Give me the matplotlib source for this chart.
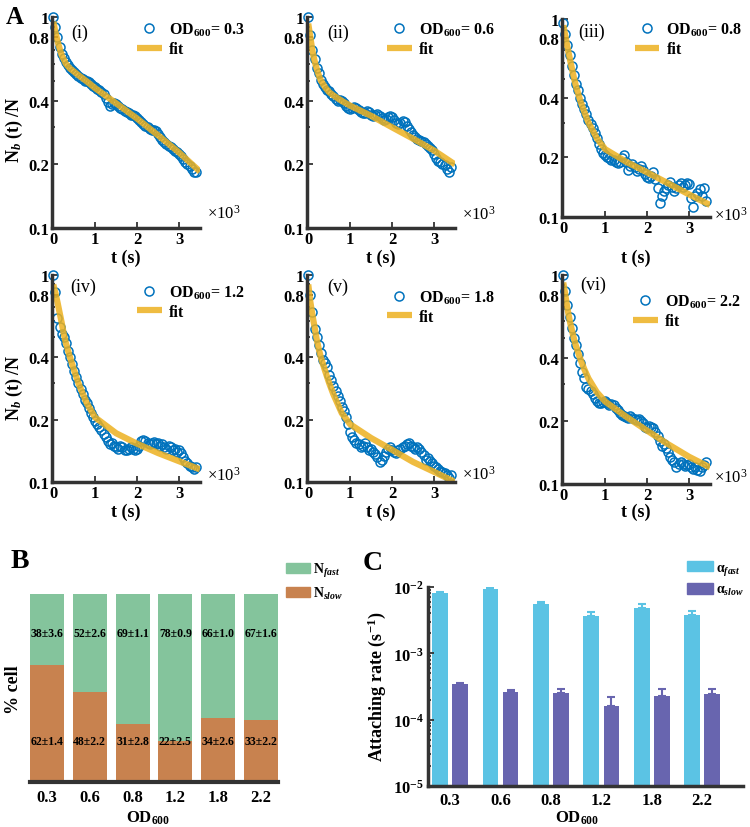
import numpy as np
import matplotlib
matplotlib.use('Agg')
import matplotlib.pyplot as plt
from matplotlib.patches import Patch
from matplotlib.ticker import NullFormatter

plt.rcParams['font.family'] = ['Liberation Serif', 'DejaVu Serif']
plt.rcParams['font.weight'] = 'bold'
plt.rcParams['mathtext.fontset'] = 'custom'
plt.rcParams['mathtext.rm'] = 'Liberation Serif:bold'
plt.rcParams['mathtext.it'] = 'Liberation Serif:italic:bold'
plt.rcParams['mathtext.bf'] = 'Liberation Serif:bold'
plt.rcParams['mathtext.default'] = 'it'

# ---- panel A: attached fraction vs time, one list per OD ----
t_data = np.arange(0, 3401, 50)   # sampling every 50 s
t_fit = [0, 50, 100, 150, 200, 250, 300, 400, 500, 600, 800, 1000, 1500, 2000, 2500, 3000, 3500]

od_names = ['0.3', '0.6', '0.8', '1.2', '1.8', '2.2']
roman = ['(i)', '(ii)', '(iii)', '(iv)', '(v)', '(vi)']

data_03 = [1.00, 0.90, 0.80, 0.72, 0.67, 0.64, 0.61, 0.59, 0.575, 0.56,
           0.55, 0.535, 0.525, 0.515, 0.51, 0.50, 0.495, 0.49, 0.48, 0.47,
           0.465, 0.458, 0.45, 0.44, 0.43, 0.415, 0.395, 0.38, 0.385, 0.39,
           0.385, 0.378, 0.37, 0.368, 0.36, 0.355, 0.35, 0.345, 0.342, 0.338,
           0.333, 0.325, 0.318, 0.31, 0.305, 0.30, 0.295, 0.29, 0.29, 0.288,
           0.28, 0.27, 0.26, 0.255, 0.25, 0.245, 0.242, 0.238, 0.232, 0.228,
           0.225, 0.22, 0.212, 0.205, 0.20, 0.196, 0.19, 0.184, 0.185]
data_06 = [1.0, 0.82, 0.70, 0.63, 0.575, 0.54, 0.505, 0.48, 0.465, 0.45,
           0.445, 0.43, 0.42, 0.41, 0.40, 0.405, 0.40, 0.39, 0.38, 0.372,
           0.368, 0.37, 0.375, 0.37, 0.362, 0.355, 0.35, 0.352, 0.36, 0.355,
           0.345, 0.34, 0.345, 0.348, 0.34, 0.332, 0.325, 0.328, 0.335, 0.338,
           0.335, 0.325, 0.315, 0.31, 0.315, 0.32, 0.318, 0.305, 0.295, 0.285,
           0.275, 0.27, 0.265, 0.262, 0.258, 0.255, 0.25, 0.245, 0.24, 0.235,
           0.225, 0.215, 0.208, 0.205, 0.202, 0.198, 0.19, 0.185, 0.195]
data_08 = [0.95, 0.84, 0.74, 0.66, 0.58, 0.52, 0.47, 0.44, 0.40, 0.37,
           0.35, 0.33, 0.31, 0.295, 0.28, 0.265, 0.25, 0.235, 0.22, 0.21,
           0.205, 0.20, 0.198, 0.195, 0.193, 0.19, 0.188, 0.19, 0.198, 0.205,
           0.19, 0.173, 0.182, 0.185, 0.178, 0.17, 0.175, 0.18, 0.172, 0.165,
           0.16, 0.158, 0.162, 0.168, 0.155, 0.14, 0.118, 0.128, 0.135, 0.14,
           0.145, 0.15, 0.142, 0.135, 0.14, 0.145, 0.148, 0.142, 0.145, 0.148,
           0.146, 0.125, 0.112, 0.128, 0.132, 0.138, 0.128, 0.14, 0.12]
data_12 = [1.0, 0.83, 0.62, 0.56, 0.52, 0.50, 0.47, 0.43, 0.40, 0.37,
           0.345, 0.32, 0.30, 0.28, 0.265, 0.25, 0.24, 0.228, 0.215, 0.205,
           0.198, 0.19, 0.185, 0.178, 0.17, 0.165, 0.158, 0.152, 0.155, 0.15,
           0.147, 0.145, 0.15, 0.148, 0.143, 0.142, 0.145, 0.148, 0.145, 0.143,
           0.145, 0.15, 0.158, 0.16, 0.158, 0.155, 0.152, 0.155, 0.156, 0.152,
           0.154, 0.15, 0.153, 0.148, 0.145, 0.15, 0.147, 0.143, 0.145, 0.14,
           0.142, 0.138, 0.132, 0.127, 0.123, 0.12, 0.118, 0.115, 0.118]
data_18 = [1.0, 0.80, 0.66, 0.55, 0.50, 0.46, 0.42, 0.39, 0.375, 0.36,
           0.33, 0.31, 0.29, 0.275, 0.26, 0.245, 0.23, 0.22, 0.205, 0.19,
           0.175, 0.165, 0.16, 0.155, 0.152, 0.148, 0.15, 0.155, 0.148, 0.142,
           0.145, 0.14, 0.137, 0.132, 0.125, 0.128, 0.133, 0.14, 0.145, 0.148,
           0.143, 0.14, 0.138, 0.142, 0.145, 0.148, 0.15, 0.152, 0.155, 0.15,
           0.148, 0.145, 0.148, 0.145, 0.14, 0.135, 0.128, 0.13, 0.126, 0.123,
           0.12, 0.118, 0.115, 0.113, 0.112, 0.11, 0.108, 0.105, 0.108]
data_22 = [1.0, 0.84, 0.72, 0.63, 0.56, 0.50, 0.46, 0.42, 0.38, 0.345,
           0.32, 0.29, 0.285, 0.28, 0.27, 0.258, 0.25, 0.245, 0.245, 0.248,
           0.25, 0.245, 0.24, 0.242, 0.238, 0.232, 0.225, 0.218, 0.215, 0.212,
           0.21, 0.208, 0.212, 0.208, 0.205, 0.202, 0.205, 0.20, 0.195, 0.188,
           0.185, 0.19, 0.188, 0.185, 0.178, 0.17, 0.16, 0.152, 0.155, 0.148,
           0.142, 0.135, 0.13, 0.128, 0.12, 0.125, 0.128, 0.125, 0.122, 0.123,
           0.125, 0.12, 0.118, 0.12, 0.117, 0.115, 0.12, 0.123, 0.128]

fit_03 = [0.95, 0.85, 0.77, 0.71, 0.66, 0.63, 0.60, 0.57, 0.55, 0.53, 0.495, 0.46, 0.39, 0.33, 0.275, 0.228, 0.185]
fit_06 = [0.93, 0.80, 0.69, 0.62, 0.57, 0.53, 0.50, 0.465, 0.44, 0.425, 0.40, 0.38, 0.34, 0.30, 0.265, 0.233, 0.20]
fit_08 = [0.93, 0.82, 0.72, 0.64, 0.57, 0.51, 0.46, 0.39, 0.34, 0.30, 0.25, 0.22, 0.19, 0.168, 0.148, 0.13, 0.115]
fit_12 = [0.90, 0.82, 0.74, 0.66, 0.59, 0.52, 0.47, 0.40, 0.345, 0.30, 0.24, 0.205, 0.172, 0.153, 0.138, 0.126, 0.115]
fit_18 = [0.90, 0.74, 0.64, 0.56, 0.49, 0.44, 0.40, 0.345, 0.30, 0.265, 0.215, 0.19, 0.163, 0.143, 0.125, 0.112, 0.10]
fit_22 = [0.92, 0.80, 0.69, 0.61, 0.55, 0.50, 0.46, 0.40, 0.355, 0.32, 0.275, 0.248, 0.21, 0.18, 0.155, 0.135, 0.12]

all_data = [data_03, data_06, data_08, data_12, data_18, data_22]
all_fit = [fit_03, fit_06, fit_08, fit_12, fit_18, fit_22]

# ---- panel B: fraction of fast / slow cells ----
n_fast = [38, 52, 69, 78, 66, 67]
n_fast_err = [3.6, 2.6, 1.1, 0.9, 1.0, 1.6]
n_slow = [62, 48, 31, 22, 34, 33]
n_slow_err = [1.4, 2.2, 2.8, 2.5, 2.6, 2.2]

# ---- panel C: attaching rates ----
alpha_fast = [8.2e-3, 9.2e-3, 5.6e-3, 3.6e-3, 4.8e-3, 3.8e-3]
alpha_fast_err = [0.3e-3, 0.9e-3, 0.3e-3, 0.6e-3, 0.8e-3, 0.5e-3]
alpha_slow = [3.4e-4, 2.6e-4, 2.5e-4, 1.6e-4, 2.3e-4, 2.4e-4]
alpha_slow_err = [0.2e-4, 0.2e-4, 0.35e-4, 0.6e-4, 0.55e-4, 0.45e-4]

blue = '#0072BD'
yellow = '#EDB120'
green = '#84C49C'
orange = '#C8824F'
cyan = '#5BC3E4'
purple = '#6865AF'
dark = '#333333'

W, H = 750, 828
fig = plt.figure(figsize=(7.5, 8.28), dpi=100)


def px_axes(left, top, right, bottom):
    return fig.add_axes([left / W, 1 - bottom / H, (right - left) / W, (bottom - top) / H])


def fig_text(x, y, s, **kw):
    kw.setdefault('ha', 'center')
    kw.setdefault('va', 'center')
    fig.text(x / W, 1 - y / H, s, **kw)


def style_axis(ax):
    for side in ['top', 'right']:
        ax.spines[side].set_visible(False)
    for side in ['left', 'bottom']:
        ax.spines[side].set_linewidth(2.5)
        ax.spines[side].set_color(dark)
    ax.tick_params(which='both', direction='in', color=dark, width=1.3, labelsize=12)
    ax.tick_params(which='major', length=4)
    ax.tick_params(which='minor', length=2.5)


# panel boxes in pixels: left, top, right, bottom
boxes = [(52, 18, 200, 229), (307, 18, 455, 229), (562, 20, 710, 218),
         (52, 276, 200, 483), (307, 276, 455, 483), (562, 276, 710, 485)]
leg_xy = [(0.574, 0.983), (0.54, 0.983), (0.49, 0.992),
          (0.574, 0.959), (0.54, 0.935), (0.48, 0.916)]
roman_xy = [(80, 33), (338, 33), (592, 32), (83, 287), (338, 287), (593, 285)]
x10_xy = [(207, 214), (462, 215), (714, 216), (207, 476), (462, 475), (714, 478)]

for i in range(6):
    ax = px_axes(*boxes[i])
    ax.plot(t_data, all_data[i], 'o', mfc='none', mec=blue, ms=6.5, mew=1.1,
            clip_on=False, label='OD$_{600}$= ' + od_names[i])
    ax.plot(t_fit, all_fit[i], '-', color=yellow, lw=4.5, alpha=0.85,
            solid_capstyle='butt', label='fit')
    ax.set_yscale('log')
    ax.set_ylim(0.1, 1)
    ax.set_xlim(-30, 3500)
    ax.set_yticks([0.1, 0.2, 0.4, 0.8, 1])
    ax.set_yticklabels(['0.1', '0.2', '0.4', '0.8', '1'])
    ax.set_yticks([0.3, 0.5, 0.6, 0.7, 0.9], minor=True)
    ax.yaxis.set_minor_formatter(NullFormatter())
    ax.set_xticks([0, 1000, 2000, 3000])
    ax.set_xticklabels(['0', '1', '2', '3'])
    style_axis(ax)
    ax.tick_params(axis='both', pad=2)
    ax.legend(loc='upper left', bbox_to_anchor=leg_xy[i], frameon=False,
              fontsize=11.5, handlelength=1.56, handletextpad=0.44, labelspacing=0.2,
              borderaxespad=0, borderpad=0)
    fig_text(*roman_xy[i], roman[i], fontsize=13, fontweight='normal')
    fig_text(*x10_xy[i], r'×10$^{\mathregular{3}}$', fontsize=12, fontweight='normal', ha='left')
    (l, t, r, b) = boxes[i]
    fig_text((l + r) / 2, 258 if i < 3 else 512, 't (s)', fontsize=13)

fig_text(14, 130, 'N$_{b}$ (t) /N', fontsize=13, rotation=90)
fig_text(14, 388, 'N$_{b}$ (t) /N', fontsize=13, rotation=90)
fig_text(15, 17, 'A', fontsize=18)

# ---- panel B ----
axB = px_axes(30, 595, 278, 783)
xb = np.arange(len(od_names))
axB.bar(xb, n_slow, width=0.79, color=orange, label='N$_{slow}$')
axB.bar(xb, n_fast, bottom=n_slow, width=0.79, color=green, label='N$_{fast}$')
for i in range(len(od_names)):
    axB.text(xb[i], 79, f'{n_fast[i]}±{n_fast_err[i]:.1f}', ha='center', va='center', fontsize=8.5)
    axB.text(xb[i], 22, f'{n_slow[i]}±{n_slow_err[i]:.1f}', ha='center', va='center', fontsize=8.5)
axB.set_xlim(-0.395, 5.395)
axB.set_ylim(0, 100)
for side in ['top', 'right', 'left']:
    axB.spines[side].set_visible(False)
axB.spines['bottom'].set_linewidth(3)
axB.spines['bottom'].set_color(dark)
axB.set_yticks([])
axB.set_xticks(xb)
axB.set_xticklabels(od_names)
axB.tick_params(axis='x', length=0, labelsize=12, pad=5)
hB = [Patch(color=green, label='N$_{fast}$'), Patch(color=orange, label='N$_{slow}$')]
fig.legend(handles=hB, loc='upper left', bbox_to_anchor=(286 / W, 1 - 562 / H), frameon=False,
           fontsize=10, handlelength=1.75, handleheight=0.75, handletextpad=0.2,
           labelspacing=0.45, borderpad=0, borderaxespad=0)
fig_text(13, 690, '% cell', fontsize=13, rotation=90)
fig_text(148, 818, 'OD$_{600}$', fontsize=12)
fig_text(20, 562, 'B', fontsize=20)

# ---- panel C ----
axC = px_axes(428, 588, 743, 787)
xc = np.arange(len(od_names))
axC.bar(xc - 0.2, alpha_fast, width=0.31, color=cyan)
axC.bar(xc + 0.2, alpha_slow, width=0.31, color=purple)
axC.errorbar(xc - 0.2, alpha_fast, yerr=[np.zeros(6), alpha_fast_err], fmt='none',
             ecolor=cyan, elinewidth=1.5, capsize=3, capthick=1.5)
axC.errorbar(xc + 0.2, alpha_slow, yerr=[np.zeros(6), alpha_slow_err], fmt='none',
             ecolor=purple, elinewidth=1.5, capsize=3, capthick=1.5)
axC.set_yscale('log')
axC.set_ylim(1e-5, 1e-2)
axC.set_xlim(-0.44, 5.81)
axC.set_yticks([1e-5, 1e-4, 1e-3, 1e-2])
axC.set_yticklabels([r'10$^{\mathrm{-5}}$', r'10$^{\mathrm{-4}}$', r'10$^{\mathrm{-3}}$', r'10$^{\mathrm{-2}}$'])
axC.yaxis.set_minor_formatter(NullFormatter())
axC.set_xticks(xc)
axC.set_xticklabels(od_names)
style_axis(axC)
axC.tick_params(axis='x', length=0, pad=4)
axC.tick_params(axis='y', pad=3)
hC = [Patch(color=cyan, label='α$_{fast}$'), Patch(color=purple, label='α$_{slow}$')]
fig.legend(handles=hC, loc='upper left', bbox_to_anchor=(687 / W, 1 - 562 / H), frameon=False,
           fontsize=10, handlelength=1.87, handleheight=0.75, handletextpad=0.2,
           labelspacing=0.45, borderpad=0, borderaxespad=0)
fig_text(377, 687, r'Attaching rate (s$^{\mathrm{-1}}$)', fontsize=13, rotation=90)
fig_text(577, 818, 'OD$_{600}$', fontsize=12)
fig_text(373, 564, 'C', fontsize=20)

fig.savefig('out.png', dpi=100)
